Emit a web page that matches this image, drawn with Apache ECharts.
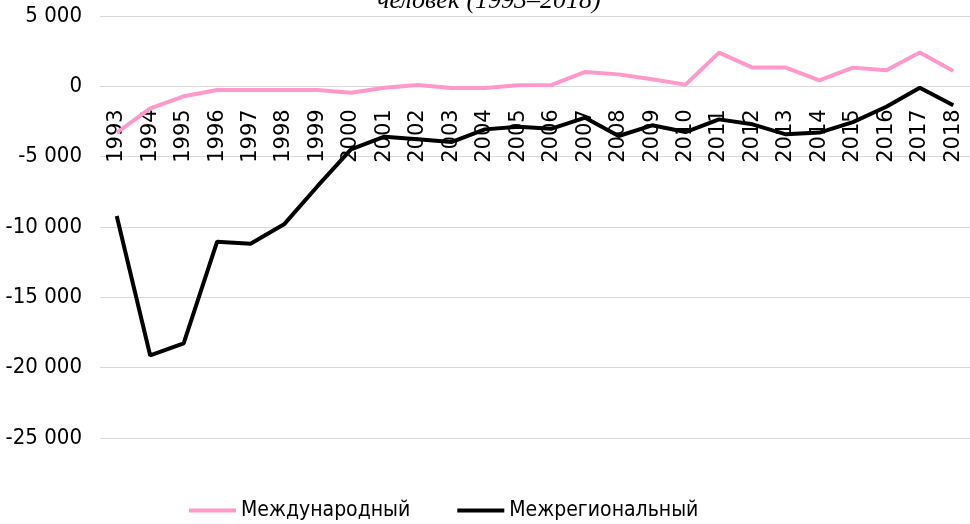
<!DOCTYPE html>
<html>
<head>
<meta charset="utf-8">
<script src="https://cdn.jsdelivr.net/npm/echarts@6/dist/echarts.min.js"></script>
<style>
  html, body { margin: 0; padding: 0; background: #fff; }
  #view { width: 970px; height: 524px; }
</style>
</head>
<body>
<div id="view"></div>
<script>
var years = ['1993','1994','1995','1996','1997','1998','1999','2000','2001','2002','2003','2004','2005',
             '2006','2007','2008','2009','2010','2011','2012','2013','2014','2015','2016','2017','2018'];
// международный
var intl = [-3300, -1560, -710, -260, -260, -260, -260, -450, -100, 100, -120, -120, 70,
            100, 1020, 850, 500, 120, 2400, 1330, 1330, 430, 1330, 1140, 2400, 1090];
// межрегиональный
var interreg = [-9220, -19130, -18270, -11040, -11190, -9810, -7100, -4480, -3580, -3770, -3960, -3060, -2870,
                -3010, -2230, -3530, -2770, -3250, -2350, -2700, -3410, -3290, -2540, -1450, -100, -1350];

var yMin = -25000, yMax = 5000;
var gridTop = 16, gridBottom = 86;

var myChart = echarts.init(document.getElementById('view'));

function fmt(v) {
    var s = String(Math.abs(v));
    if (s.length > 3) s = s.slice(0, s.length - 3) + ' ' + s.slice(s.length - 3);
    return (v < 0 ? '-' : '') + s;
}

// ось X проходит через ноль: сдвигаем верхнюю ось вниз
var gridH = 524 - gridTop - gridBottom;
var zeroOffset = -gridH * yMax / (yMax - yMin);

var narrow = 'DejaVu Sans Condensed, Noto Sans';

myChart.setOption({
    animation: false,
    title: {
        text: 'человек (1993–2018)',
        left: 372,
        top: -17,
        textStyle: {
            fontFamily: 'Liberation Serif',
            fontStyle: 'italic',
            fontWeight: 'normal',
            fontSize: 26,
            color: '#000'
        }
    },
    grid: {
        left: 100,
        right: -1,
        top: gridTop,
        bottom: gridBottom
    },
    legend: {
        left: 184,
        top: 495,
        itemWidth: 47,
        itemHeight: 4,
        itemGap: 47,
        icon: 'rect',
        textStyle: {
            fontFamily: narrow,
            fontSize: 21,
            color: '#000'
        },
        data: ['Международный', 'Межрегиональный']
    },
    xAxis: {
        type: 'category',
        data: years,
        position: 'top',
        offset: zeroOffset,
        axisLine: { onZero: false, lineStyle: { color: '#d9d9d9', width: 1 } },
        axisTick: { show: false },
        axisLabel: {
            inside: true,
            rotate: -90,
            margin: 23,
            fontFamily: 'DejaVu Sans',
            fontSize: 21,
            color: '#000'
        }
    },
    yAxis: {
        type: 'value',
        min: yMin,
        max: yMax,
        interval: 5000,
        axisLine: { show: false },
        axisTick: { show: false },
        splitLine: { lineStyle: { color: '#d9d9d9', width: 1 } },
        axisLabel: {
            margin: 18,
            fontFamily: narrow,
            fontSize: 22,
            color: '#000',
            formatter: fmt
        }
    },
    series: [{
        name: 'Международный',
        type: 'line',
        data: intl,
        symbol: 'none',
        lineStyle: { color: '#ff99cc', width: 4 },
        itemStyle: { color: '#ff99cc' }
    }, {
        name: 'Межрегиональный',
        type: 'line',
        data: interreg,
        symbol: 'none',
        lineStyle: { color: '#000', width: 4 },
        itemStyle: { color: '#000' }
    }]
});
</script>
</body>
</html>
